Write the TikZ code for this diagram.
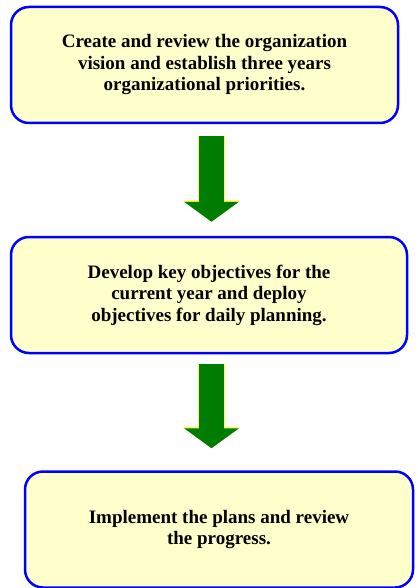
\documentclass[tikz,border=0pt]{standalone}
\usepackage{fontspec}
\setmainfont{Liberation Serif}
\usetikzlibrary{arrows.meta}

\definecolor{boxyellow}{RGB}{255,255,204}
\definecolor{arrowgreen}{RGB}{0,125,0}

\begin{document}
\begin{tikzpicture}[x=1pt, y=-1pt, thick,
  stepbox/.style={rectangle, rounded corners=18pt, draw=blue, line width=2.5pt,
    fill=boxyellow, align=center, minimum height=116pt,
    font=\bfseries\fontsize{19}{21.5}\selectfont},
  bigarrow/.style={draw=arrowgreen, line width=25pt,
    -{Triangle[width=54pt,length=20pt]},
    preaction={draw=yellow!70, line width=27.5pt,
      -{Triangle[width=57pt,length=21.5pt]}}}]

  \useasboundingbox (0,0) rectangle (417,588);

  \node[stepbox, minimum width=387pt] (B1) at (204.5,65)
    {Create and review the organization\\vision and establish three years\\organizational priorities.};
  \node[stepbox, minimum width=396pt] (B2) at (209,295)
    {Develop key objectives for the\\current year and deploy\\objectives for daily planning.};
  \node[stepbox, minimum width=388pt] (B3) at (219,529.5)
    {Implement the plans and review\\the progress.};

  \coordinate (axis) at (211.5,0);

  \draw[bigarrow, shorten <=12pt, shorten >=14pt] (axis |- B1.south) -- (axis |- B2.north);
  \draw[bigarrow, shorten <=10pt, shorten >=22pt] (axis |- B2.south) -- (axis |- B3.north);

\end{tikzpicture}
\end{document}
